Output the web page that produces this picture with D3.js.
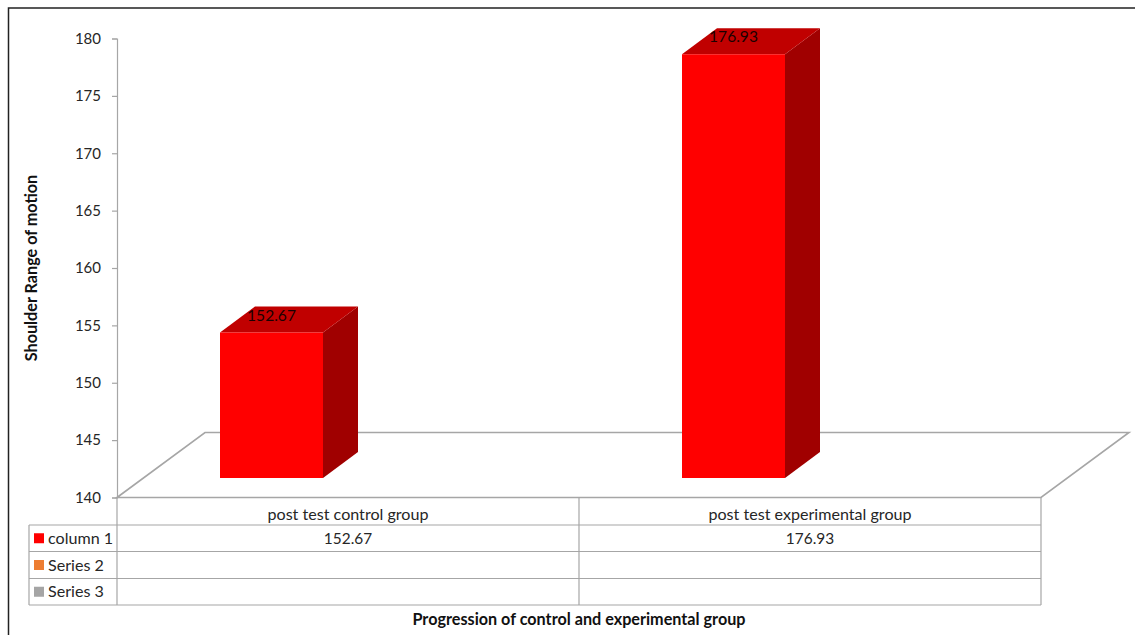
<!DOCTYPE html>
<html>
<head>
<meta charset="utf-8">
<script src="https://cdn.jsdelivr.net/npm/d3@7/dist/d3.min.js"></script>
<style>
  html, body { margin: 0; padding: 0; background: #fff; }
  svg { display: block; font-family: Lato, "Open Sans", sans-serif; }
  text { fill: #262626; }
</style>
</head>
<body>
<svg id="chart" width="1135" height="635"></svg>
<script>
const categories = ["post test control group", "post test experimental group"];
const column1 = [152.67, 176.93];
const series2 = [];
const series3 = [];
const yTicks = [140, 145, 150, 155, 160, 165, 170, 175, 180];
const yDomain = [140, 180];
const xTitle = "Progression of control and experimental group";
const yTitle = "Shoulder Range of motion";

const seriesRows = [
  { name: "column 1", color: "#ff0000", values: column1 },
  { name: "Series 2", color: "#ed7d31", values: series2 },
  { name: "Series 3", color: "#a5a5a5", values: series3 }
];

const svg = d3.select("#chart");
const plotLeft = 117, plotRight = 1041, plotTop = 38.5, plotBase = 497.5;
const grey = "#a6a6a6";

// Oblique projection: floor depth and the narrower depth of each column
const floorDx = 88, floorDy = -65;
const barDx = 35, barDy = -26;
const barLift = 19.5, barInset = 103, barWidth = 103;

const x = d3.scaleBand().domain(categories).range([plotLeft, plotRight]);
const y = d3.scaleLinear().domain(yDomain).range([plotBase, plotTop]);

// Outer frame, open on the right and at the bottom
svg.append("path")
  .attr("d", d3.line()([[8.5, 635], [8.5, 8], [1135, 8]]))
  .attr("fill", "none").attr("stroke", "#222").attr("stroke-width", 1.5);

// Chart floor
svg.append("path")
  .attr("d", d3.line()([
    [plotLeft, plotBase], [plotLeft + floorDx, plotBase + floorDy],
    [plotRight + floorDx, plotBase + floorDy], [plotRight, plotBase]
  ]) + "Z")
  .attr("fill", "none").attr("stroke", grey).attr("stroke-width", 1.6);

// Value axis
const yAxis = svg.append("g")
  .attr("transform", `translate(${plotLeft},0)`)
  .call(d3.axisLeft(y).tickValues(yTicks).tickSize(5).tickPadding(11).tickFormat(d3.format("d")));
yAxis.selectAll("path, line").attr("stroke", grey).attr("stroke-width", 1.2);
yAxis.selectAll("text").attr("font-size", 15).attr("font-family", "Lato").attr("fill", "#262626");

// Columns: front, top and side faces
const floorY = plotBase - barLift;
const bars = svg.append("g").selectAll("g")
  .data(column1.map((v, i) => ({ v, cat: categories[i] })))
  .join("g");

const face = (sel, color, pts) => sel.append("polygon")
  .attr("fill", color)
  .attr("points", d => pts(d).map(p => p.join(",")).join(" "));

const xl = d => x(d.cat) + barInset;
const yt = d => y(d.v) - barLift;

face(bars, "#a00000", d => [
  [xl(d) + barWidth, yt(d)], [xl(d) + barWidth + barDx, yt(d) + barDy],
  [xl(d) + barWidth + barDx, floorY + barDy], [xl(d) + barWidth, floorY]
]);
face(bars, "#c00000", d => [
  [xl(d), yt(d)], [xl(d) + barDx, yt(d) + barDy],
  [xl(d) + barWidth + barDx, yt(d) + barDy], [xl(d) + barWidth, yt(d)]
]);
face(bars, "#ff0000", d => [
  [xl(d), yt(d)], [xl(d) + barWidth, yt(d)],
  [xl(d) + barWidth, floorY], [xl(d), floorY]
]);

// Value labels sitting on the top faces
bars.append("text")
  .attr("x", d => xl(d) + barWidth / 2)
  .attr("y", d => yt(d) - 12)
  .attr("text-anchor", "middle")
  .attr("font-size", 15.6)
  .style("fill", "#1a0000")
  .text(d => d.v.toFixed(2));

// Data table under the plot
const rowTops = [525, 551.5, 578.5, 605];
const headerY = 514;
const tableLeft = 29;
const table = svg.append("g").attr("stroke", grey).attr("stroke-width", 1.2);

rowTops.forEach(ry => table.append("line")
  .attr("x1", tableLeft).attr("x2", plotRight).attr("y1", ry).attr("y2", ry));
table.append("line")
  .attr("x1", tableLeft).attr("x2", tableLeft)
  .attr("y1", rowTops[0]).attr("y2", rowTops[3]);
[plotLeft, plotLeft + x.bandwidth(), plotRight].forEach(cx => table.append("line")
  .attr("x1", cx).attr("x2", cx).attr("y1", plotBase).attr("y2", rowTops[3]));

// Category header row
svg.append("g").selectAll("text").data(categories).join("text")
  .attr("x", d => x(d) + x.bandwidth() / 2)
  .attr("y", headerY)
  .attr("dy", "0.35em")
  .attr("text-anchor", "middle")
  .attr("font-size", 16.1)
  .text(d => d);

// Series rows: legend key, name and values
seriesRows.forEach((s, r) => {
  const cy = (rowTops[r] + rowTops[r + 1]) / 2;
  svg.append("rect")
    .attr("x", 34).attr("y", cy - 5).attr("width", 10).attr("height", 10)
    .attr("fill", s.color);
  svg.append("text")
    .attr("x", 48).attr("y", cy).attr("dy", "0.35em")
    .attr("font-size", 16.1).text(s.name);
  s.values.forEach((v, i) => svg.append("text")
    .attr("x", x(categories[i]) + x.bandwidth() / 2)
    .attr("y", cy).attr("dy", "0.35em")
    .attr("text-anchor", "middle")
    .attr("font-size", 15.4).text(v.toFixed(2)));
});

// Axis titles
svg.append("text")
  .attr("x", plotLeft + (plotRight - plotLeft) / 2).attr("y", 619).attr("dy", "0.35em")
  .attr("text-anchor", "middle").attr("font-size", 16.2).attr("font-weight", 700)
  .style("fill", "#111").text(xTitle);
svg.append("text")
  .attr("transform", "translate(31,268) rotate(-90)")
  .attr("dy", "0.35em")
  .attr("text-anchor", "middle").attr("font-size", 16.2).attr("font-weight", 700)
  .style("fill", "#111").text(yTitle);
</script>
</body>
</html>
